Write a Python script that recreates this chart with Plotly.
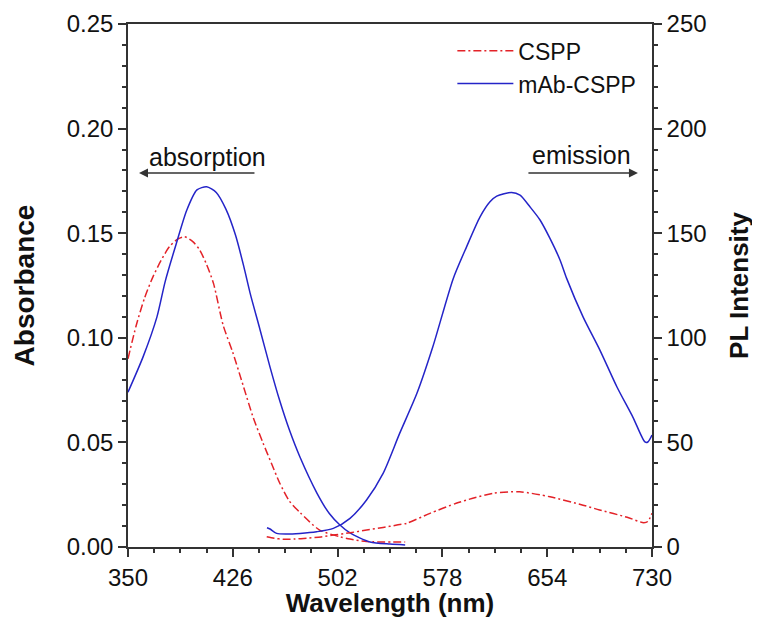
import plotly.graph_objects as go

# ---- data ----
# Absorption (left axis)
cspp_abs_wl = [350, 356, 362, 368, 374, 380, 386, 391, 397, 402, 407, 412, 419, 426, 433.6,
               441, 448, 454, 460, 467, 475, 489, 504, 511, 523, 551]
cspp_abs = [0.090, 0.106, 0.119, 0.129, 0.137, 0.1435, 0.1472, 0.1483, 0.146, 0.142, 0.135,
            0.126, 0.106, 0.093, 0.077, 0.0615, 0.0496, 0.040, 0.0306, 0.022, 0.0163,
            0.0081, 0.0048, 0.0038, 0.0026, 0.0024]

mab_abs_wl = [350, 361, 371, 377, 385, 392.6, 400, 407, 414, 421, 428, 434, 438.5,
              445.7, 453, 460, 467, 474.7, 487, 496, 503.7, 511, 525.5, 540, 551]
mab_abs = [0.074, 0.091, 0.110, 0.127, 0.145, 0.161, 0.1707, 0.1722, 0.1695, 0.1615,
           0.149, 0.134, 0.1215, 0.104, 0.086, 0.070, 0.056, 0.043, 0.0258, 0.016, 0.0105,
           0.0067, 0.0024, 0.0014, 0.0010]

# Emission (right axis)
cspp_pl_wl = [450.6, 456, 462.6, 471, 479.6, 490, 498.9, 511, 523, 535, 545, 552, 569, 588,
              600, 615, 634, 656, 680, 692, 712, 724, 727, 730]
cspp_pl = [4.9, 4.2, 3.7, 3.8, 4.2, 4.8, 5.7, 6.8, 8.1, 9.3, 10.5, 11.3, 16.1, 20.9,
           23.3, 25.7, 26.4, 24.0, 20.0, 17.7, 14.2, 11.6, 12.2, 16.1]

mab_pl_wl = [450.8, 453, 457.8, 465, 474.7, 486.8, 498.9, 511, 523, 535, 547, 559.6, 571,
             585.9, 595.6, 605.3, 612.5, 617.4, 628.2, 634.3, 641.5, 648.8, 656, 663.3,
             668.1, 680, 692.3, 704.6, 716.2, 724.9, 727, 730]
mab_pl = [9.2, 8.6, 6.5, 6.2, 6.5, 7.3, 8.9, 13.7, 22.5, 35.2, 54.3, 73.6, 95.6, 128.4,
          143.6, 157.8, 165.0, 167.7, 169.5, 168.2, 162.6, 156.3, 147.5, 137.2, 128.4,
          110, 94, 76.5, 62, 50.2, 50.2, 53.5]

x_ticks = [350, 426, 502, 578, 654, 730]

RED = "#e32228"
BLUE = "#2424c8"
AX = "#333333"
TXT = "#111111"
FONT = "Liberation Sans, Arial, sans-serif"
red_dash = "8px,3px,2px,3px"

fig = go.Figure()
fig.add_trace(go.Scatter(x=cspp_abs_wl, y=cspp_abs, mode="lines", name="CSPP",
                         legendgroup="cspp",
                         line=dict(color=RED, width=1.5, dash=red_dash, shape="spline",
                                   smoothing=0.7)))
fig.add_trace(go.Scatter(x=mab_abs_wl, y=mab_abs, mode="lines", name="mAb-CSPP",
                         legendgroup="mab",
                         line=dict(color=BLUE, width=1.5, shape="spline", smoothing=0.7)))
fig.add_trace(go.Scatter(x=cspp_pl_wl, y=cspp_pl, mode="lines", name="CSPP", yaxis="y2",
                         legendgroup="cspp", showlegend=False,
                         line=dict(color=RED, width=1.5, dash=red_dash, shape="spline",
                                   smoothing=0.7)))
fig.add_trace(go.Scatter(x=mab_pl_wl, y=mab_pl, mode="lines", name="mAb-CSPP", yaxis="y2",
                         legendgroup="mab", showlegend=False,
                         line=dict(color=BLUE, width=1.5, shape="spline", smoothing=0.7)))

axis_common = dict(showline=True, linecolor=AX, linewidth=1.5, ticks="outside",
                   tickcolor=AX, tickwidth=1.5, ticklen=8, showgrid=False, zeroline=False,
                   automargin=False,
                   tickfont=dict(family=FONT, size=24, color=TXT))

# page body has an 8px default margin, so the figure is sized/margined to land the
# plot area where the reference has it (x 128-652, y 24-547 in the window)
fig.update_layout(
    width=752, height=610,
    margin=dict(l=120, r=108, t=16, b=71),
    paper_bgcolor="white", plot_bgcolor="white",
    font=dict(family=FONT, color=TXT),
    xaxis=dict(range=[350, 730], tickvals=x_ticks, mirror=True,
               minor=dict(dtick=19, tick0=350, ticklen=4, tickcolor=AX, ticks="outside"),
               title=dict(text="<b>Wavelength (nm)</b>", font=dict(family=FONT, size=26),
                          standoff=18),
               **axis_common),
    yaxis=dict(range=[0, 0.25], dtick=0.05, tick0=0, tickformat=".2f",
               minor=dict(dtick=0.01, ticklen=4, tickcolor=AX, ticks="outside"),
               title=dict(text="<b>Absorbance</b>", font=dict(family=FONT, size=28),
                          standoff=24),
               **axis_common),
    yaxis2=dict(range=[0, 250], dtick=50, tick0=0, overlaying="y", side="right",
                minor=dict(dtick=10, ticklen=4, tickcolor=AX, ticks="outside"),
                title=dict(text="<b>PL Intensity</b>", font=dict(family=FONT, size=26),
                           standoff=24),
                **axis_common),
    legend=dict(x=0.619, y=0.99, xanchor="left", yanchor="top",
                bgcolor="rgba(0,0,0,0)", itemwidth=56,
                font=dict(family=FONT, size=23, color=TXT), tracegroupgap=0),
    showlegend=True,
)

# arrows with labels
fig.add_annotation(x=358, y=0.1788, ax=442.8, ay=0.1788, xref="x", yref="y",
                   axref="x", ayref="y", showarrow=True, arrowhead=2, arrowsize=1.2,
                   arrowwidth=1.5, arrowcolor=AX, text="")
fig.add_annotation(x=719.8, y=0.1788, ax=639.3, ay=0.1788, xref="x", yref="y",
                   axref="x", ayref="y", showarrow=True, arrowhead=2, arrowsize=1.2,
                   arrowwidth=1.5, arrowcolor=AX, text="")
fig.add_annotation(x=407.3, y=0.1864, xref="x", yref="y", text="absorption",
                   showarrow=False, font=dict(family=FONT, size=25, color=TXT))
fig.add_annotation(x=679.2, y=0.1874, xref="x", yref="y", text="emission",
                   showarrow=False, font=dict(family=FONT, size=25, color=TXT))

fig.write_html("out.html")
